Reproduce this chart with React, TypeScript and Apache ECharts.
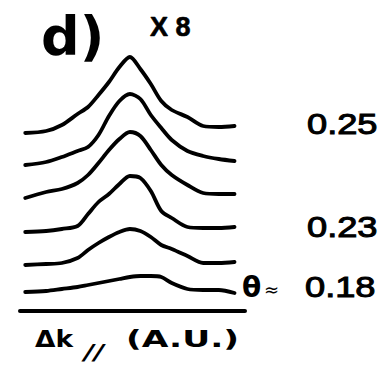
import React, { useEffect, useRef } from "react";
import * as echarts from "echarts";

// Momentum transfer along the surface (arbitrary units), shared by all profiles
const deltaK = [-1.0, -0.8, -0.65, -0.5, -0.4, -0.3, -0.2, -0.1, 0.0, 0.1, 0.2, 0.3, 0.4, 0.55, 0.7, 0.85, 1.0];

// Diffraction profiles, stacked with a vertical offset (top to bottom)
const profile1 = [17.8, 18.0, 18.6, 19.7, 20.4, 21.6, 22.9, 24.4, 25.4, 24.2, 22.7, 21.0, 20.1, 19.4, 18.5, 18.4, 18.5];
const profile2 = [14.6, 14.9, 15.4, 16.0, 16.4, 17.6, 19.5, 21.0, 21.7, 21.2, 19.6, 18.3, 17.1, 16.0, 15.5, 15.2, 15.0];
const profile3 = [11.3, 11.9, 12.2, 12.8, 13.6, 14.8, 16.1, 17.2, 17.9, 17.5, 16.1, 14.6, 13.6, 12.6, 11.8, 11.7, 11.7];
const profile4 = [7.9, 8.0, 8.2, 8.5, 9.7, 10.9, 11.7, 12.7, 13.5, 13.3, 12.0, 10.0, 9.3, 8.4, 8.3, 8.3, 8.4];
const profile5 = [4.6, 4.7, 4.8, 5.3, 6.1, 6.8, 7.4, 7.9, 8.2, 8.0, 7.4, 6.6, 6.2, 5.5, 4.8, 4.8, 4.9];
const profile6 = [1.9, 2.0, 2.2, 2.4, 2.6, 2.8, 3.0, 3.2, 3.4, 3.5, 3.5, 3.4, 2.8, 2.2, 2.1, 2.1, 1.8];

const profiles = [profile1, profile2, profile3, profile4, profile5, profile6];

// Coverage labels
const coverageTop = "0.25";
const coverageMid = "0.23";
const coverageLow = "0.18";
const panelLabel = "d)";
const scaleFactor = "X 8";

const DEJAVU = "DejaVu Sans";
const LIB = "Liberation Sans";

type TextOpts = { weight?: string; family?: string; sx?: number; italic?: boolean; stroke?: number };

export default function App() {
  const ref = useRef<HTMLDivElement>(null);

  useEffect(() => {
    if (!ref.current) return;
    const chart = echarts.init(ref.current, undefined, { renderer: "svg" });

    const series = profiles.map((p, idx) => ({
      type: "line",
      name: "profile" + (idx + 1),
      data: deltaK.map((x, i) => [x, p[i]]),
      symbol: "none",
      smooth: 0.3,
      lineStyle: { color: "#000", width: 3.8, cap: "round", join: "round" },
      silent: true,
    }));

    const text = (t: string, x: number, y: number, size: number, opts: TextOpts = {}) => ({
      type: "text",
      x,
      y,
      scaleX: opts.sx ?? 1,
      style: {
        text: t,
        fill: "#000",
        stroke: opts.stroke ? "#000" : undefined,
        lineWidth: opts.stroke ?? 0,
        fontSize: size,
        fontFamily: opts.family ?? DEJAVU,
        fontWeight: opts.weight ?? "normal",
        fontStyle: opts.italic ? "italic" : "normal",
        align: "left",
        verticalAlign: "middle",
      },
    });

    const digits: TextOpts = { family: LIB, sx: 1.25, stroke: 1 };

    chart.setOption({
      animation: false,
      backgroundColor: "#fff",
      grid: { left: 20, top: 11, width: 225, height: 300 },
      xAxis: {
        type: "value",
        min: -1.05,
        max: 1.1,
        axisLine: { show: true, lineStyle: { color: "#000", width: 4 } },
        axisTick: { show: false },
        axisLabel: { show: false },
        splitLine: { show: false },
      },
      yAxis: {
        type: "value",
        min: 0,
        max: 30,
        show: false,
        splitLine: { show: false },
      },
      series,
      graphic: [
        text(panelLabel, 41, 36, 54, { weight: "bold" }),
        text(scaleFactor, 150, 27, 27, { weight: "bold", family: LIB, stroke: 0.6 }),
        text(coverageTop, 307, 124, 29, digits),
        text(coverageMid, 307, 227, 29, digits),
        text("\u03b8", 242, 287, 28, { weight: "bold" }),
        text("\u2248", 264, 289, 18, {}),
        text(coverageLow, 305, 287, 29, digits),
        text("\u0394k", 35, 339, 23, { weight: "bold", sx: 1.15 }),
        text("//", 84, 353, 21, { weight: "bold", sx: 1.3, italic: true }),
        text("(A.U.)", 126, 339, 23, { weight: "bold", sx: 1.5 }),
      ],
    });

    return () => chart.dispose();
  }, []);

  return (
    <div
      ref={ref}
      style={{ position: "fixed", left: 0, top: 0, width: 391, height: 376, background: "#fff" }}
    />
  );
}
